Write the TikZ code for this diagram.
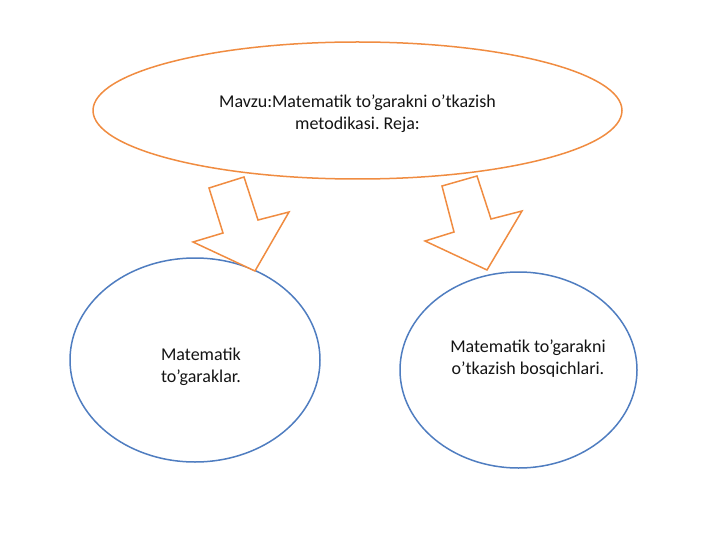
\documentclass[tikz,border=0pt]{standalone}
\usepackage{fontspec}
\setmainfont{Carlito}
\frenchspacing
\usetikzlibrary{shapes.geometric}
\definecolor{orangeline}{RGB}{240,140,65}
\definecolor{blueline}{RGB}{79,125,192}
\definecolor{txt}{RGB}{20,20,20}
\begin{document}
\begin{tikzpicture}[x=1pt,y=-1pt,
  topell/.style={draw=orangeline,line width=1.5pt,ellipse,inner sep=0pt,line join=round},
  subell/.style={draw=blueline,line width=1.5pt,ellipse,inner sep=0pt,line join=round},
  blockarrow/.style={draw=orangeline,line width=1.5pt,fill=white,line join=miter},
  lbl/.style={text=txt,font=\fontsize{18}{22}\selectfont,inner sep=0pt}]
\useasboundingbox (0,0) rectangle (720,540);
\node[topell,minimum width=529pt,minimum height=137pt] (top) at (357.5,110.5) {};
\node[subell,minimum width=250pt,minimum height=204pt] (left) at (195,360) {};
\node[subell,minimum width=237pt,minimum height=196pt] (right) at (518.5,370) {};
\node[lbl,align=center] (toptext) at (357.5,114) {Mavzu:Matematik to’garakni o’tkazish\\metodikasi. Reja:};
\node[lbl,align=left] (lefttext) at (201,367) {Matematik\\to’garaklar.};
\node[lbl,align=center] (righttext) at (528,359) {Matematik to’garakni\\o’tkazish bosqichlari.};
\draw[blockarrow] (209,188) -- (244,177) -- (258,220) -- (289,212) -- (255,271) -- (193,242) -- (223,233) -- cycle;
\draw[blockarrow] (442,186) -- (477,176) -- (491,219) -- (522,211) -- (487,270) -- (425,241) -- (454,232) -- cycle;
\end{tikzpicture}
\end{document}
